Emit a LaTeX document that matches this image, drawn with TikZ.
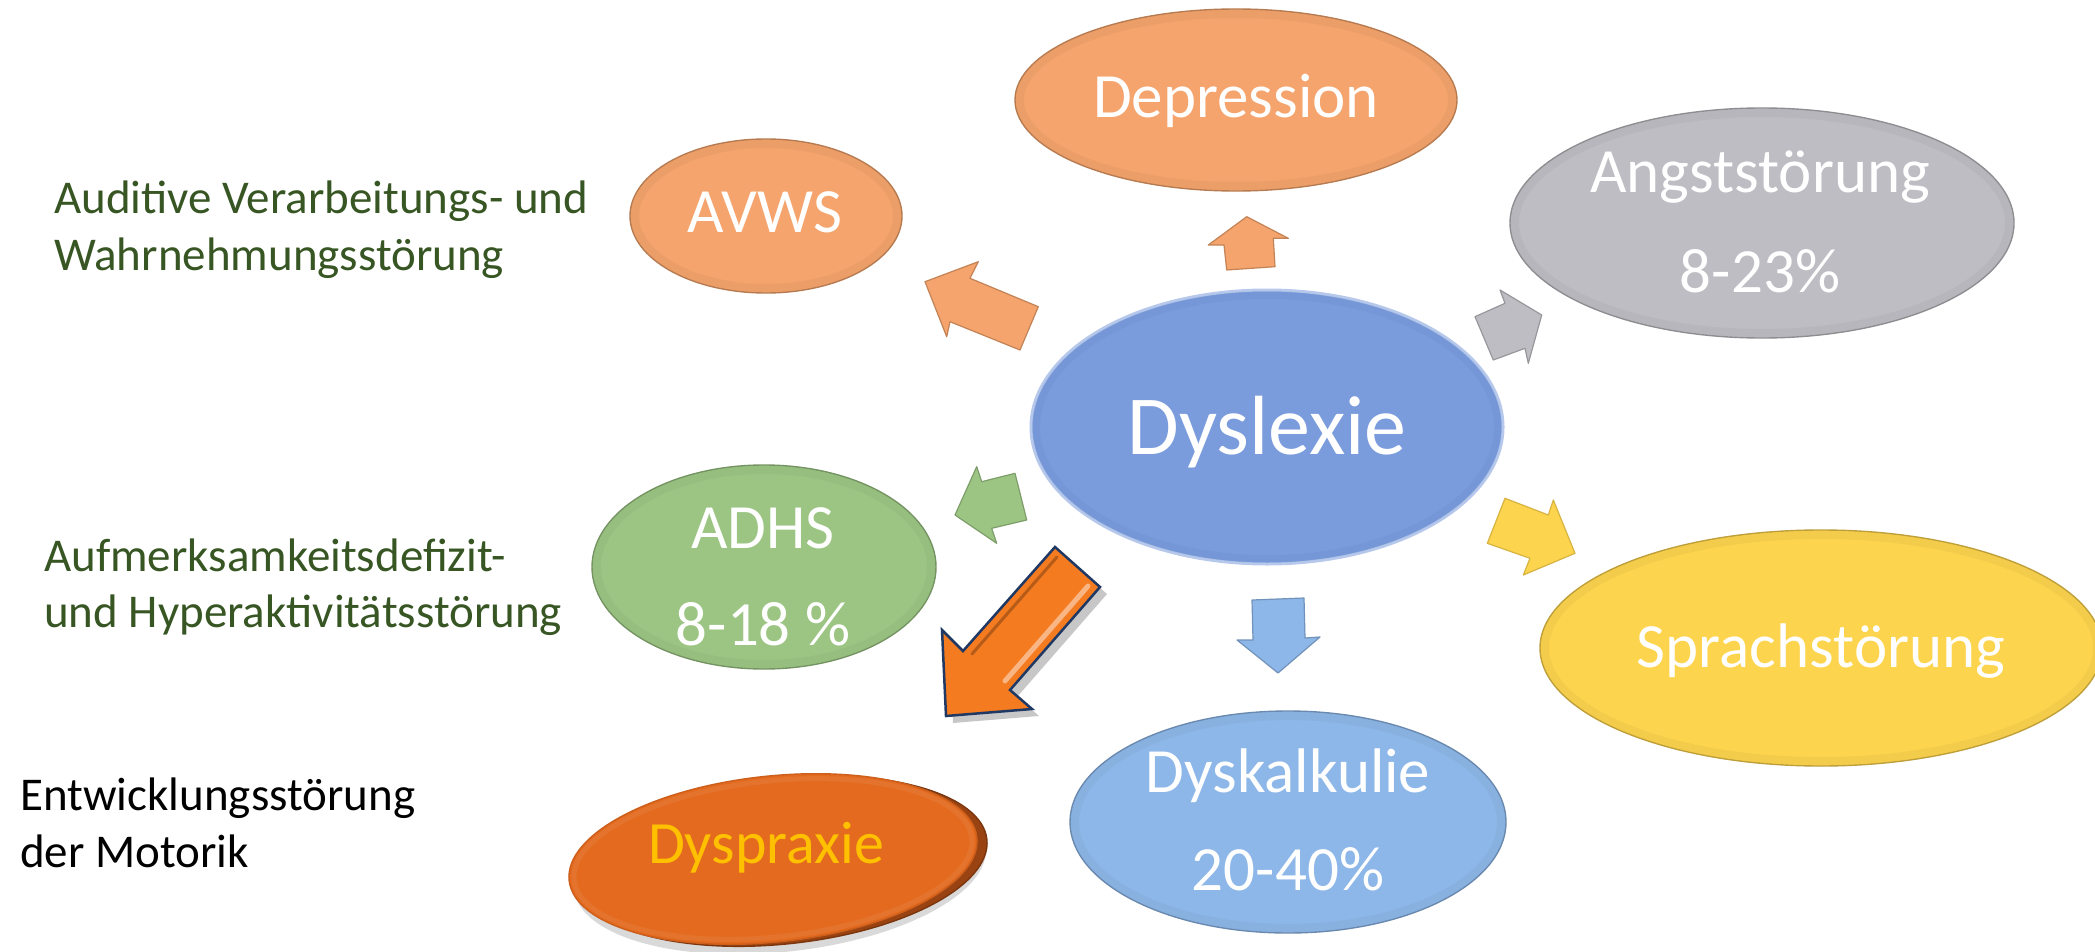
\documentclass[tikz,border=0pt]{standalone}
\usepackage{fontspec}
\setmainfont{Carlito}
\usetikzlibrary{shapes.geometric}
\definecolor{corange}{HTML}{F4A46C}
\definecolor{cgrey}{HTML}{BEBDC3}
\definecolor{cblue}{HTML}{7A9CDD}
\definecolor{cgreen}{HTML}{9CC584}
\definecolor{cyellow}{HTML}{FDD44E}
\definecolor{clblue}{HTML}{8DB7E8}
\definecolor{cdorange}{HTML}{E36A1E}
\definecolor{cdext}{HTML}{9A4312}
\definecolor{cbig}{HTML}{F47B20}
\definecolor{cnavy}{HTML}{1F3864}
\definecolor{cgold}{HTML}{FFC000}
\definecolor{cgtext}{HTML}{375623}
\tikzset{
  bubble/.style={ellipse, inner sep=0pt, line width=1.4pt},
  lbl/.style={anchor=base, inner sep=0pt, text=white, font=\fontsize{63}{63}\selectfont},
  biglbl/.style={anchor=base, inner sep=0pt, text=white, font=\fontsize{84}{84}\selectfont},
  side/.style={anchor=base west, inner sep=0pt, font=\fontsize{47}{47}\selectfont},
  blk/.style={line width=1.2pt, line join=round},
}
% name, x, y, rx, ry, colour
\newcommand\mybub[6]{%
  \node[bubble, fill=#6, draw=#6!75!black, minimum width={2*#4pt}, minimum height={2*#5pt}] (#1) at (#2,#3) {};
  \draw[#6!85!black, line width=8pt, opacity=.22] (#2,#3) ellipse [x radius={#4-5}, y radius={#5-5}];
}
\begin{document}
\begin{tikzpicture}[x=1pt,y=-1pt]
\useasboundingbox (0,0) rectangle (2095,952);
\fill[white] (0,0) rectangle (2095,952);

% ellipses
\mybub{depr}{1236}{100}{221}{91}{corange}
\mybub{avws}{766}{216}{136}{77}{corange}
\mybub{angst}{1762}{223}{252}{115}{cgrey}
\node[bubble, fill=cblue, draw=cblue!55!white, line width=3pt, minimum width=472pt, minimum height=274pt] (dys) at (1267,427) {};
\draw[cblue!85!black, line width=8pt, opacity=.18] (1267,427) ellipse [x radius=231, y radius=132];
\mybub{adhs}{764}{567}{172}{102}{cgreen}
\mybub{sprach}{1821}{648}{281}{118}{cyellow}
\mybub{kalk}{1288}{822}{218}{111}{clblue}

% Dyspraxie (3D disc)
\node[bubble, rotate=6, fill=black, opacity=.15, draw=none, minimum width=414pt, minimum height=168pt] (praxsh) at (780,868) {};
\node[bubble, rotate=6, fill=cdext, draw=cdext!80!black, minimum width=412pt, minimum height=166pt] (praxext) at (782,861) {};
\node[bubble, rotate=6, fill=cdorange, draw=cdorange!90!black, minimum width=410pt, minimum height=166pt] (prax) at (773,859) {};
\draw[cdorange!85!white, line width=5pt, opacity=.45, rotate around={6:(773,859)}] (773,859) ellipse [x radius=200, y radius=78];

% block arrows
\draw[blk, fill=corange, draw=corange!80!black] (925,281.7) -- (978.3,261.7) -- (970,278.3) -- (1038.3,306.7) -- (1020,350) -- (950,321.7) -- (946.7,336.7) -- cycle;
\draw[blk, fill=corange, draw=corange!80!black] (1246.7,216.7) -- (1288.3,238.3) -- (1273.3,238.3) -- (1275,266.7) -- (1226.7,270) -- (1224,245) -- (1208.3,245) -- cycle;
\draw[blk, fill=cgrey, draw=cgrey!80!black] (1475,316.7) -- (1505,303.3) -- (1500,290) -- (1541.7,315) -- (1528.3,363.3) -- (1525,348.3) -- (1493.3,360) -- cycle;
\draw[blk, fill=cyellow, draw=cyellow!85!black] (1505,498.3) -- (1548.3,515) -- (1553.3,500) -- (1575,553.3) -- (1523.3,575) -- (1530,558.3) -- (1487.3,543.3) -- cycle;
\draw[blk, fill=cgreen, draw=cgreen!80!black] (955,515) -- (976.7,466.7) -- (981.7,481.7) -- (1015,473.3) -- (1026.7,520) -- (991.7,528.3) -- (996.7,543.3) -- cycle;
\draw[blk, fill=clblue, draw=clblue!80!black] (1252,600) -- (1304,598) -- (1305,638) -- (1320,637) -- (1278,673) -- (1237,640) -- (1253,640) -- cycle;

% big orange arrow
\fill[black, opacity=.22] (1062,554) -- (1107,594) -- (1017,697) -- (1039,716) -- (953,723) -- (949,637) -- (970,658) -- cycle;
\draw[line width=2.5pt, line join=miter, fill=cbig, draw=cnavy] (1055,547) -- (1100,587) -- (1010,690) -- (1032,709) -- (946,716) -- (942,630) -- (963,651) -- cycle;
\draw[cbig!55!white, line width=5pt, line cap=round] (1088,586) -- (1005,681);
\draw[cbig!75!black, line width=3pt, line cap=round] (1057,557) -- (972,654);

% labels in bubbles
\node[lbl] (tdepr) at (1236,118) {Depression};
\node[lbl] (tavws) at (765,233) {AVWS};
\node[lbl] (tangst1) at (1760,193) {Angststörung};
\node[lbl] (tangst2) at (1760,292) {8-23\%};
\node[biglbl] (tdys) at (1267,454) {Dyslexie};
\node[lbl] (tadhs1) at (763,548) {ADHS};
\node[lbl] (tadhs2) at (763,645) {8-18 \%};
\node[lbl] (tsprach) at (1821,667) {Sprachstörung};
\node[lbl] (tkalk1) at (1288,792) {Dyskalkulie};
\node[lbl] (tkalk2) at (1288,890) {20-40\%};
\node[lbl, text=cgold, font=\fontsize{60}{60}\selectfont] (tprax) at (766,863) {Dyspraxie};

% side texts
\node[side, text=cgtext] (s1a) at (54,213) {Auditive Verarbeitungs- und};
\node[side, text=cgtext] (s1b) at (54,270) {Wahrnehmungsstörung};
\node[side, text=cgtext] (s2a) at (44,571) {Aufmerksamkeitsdefizit-};
\node[side, text=cgtext] (s2b) at (44,627) {und Hyperaktivitätsstörung};
\node[side, text=black] (s3a) at (20,810) {Entwicklungsstörung};
\node[side, text=black] (s3b) at (20,867) {der Motorik};
\end{tikzpicture}
\end{document}
